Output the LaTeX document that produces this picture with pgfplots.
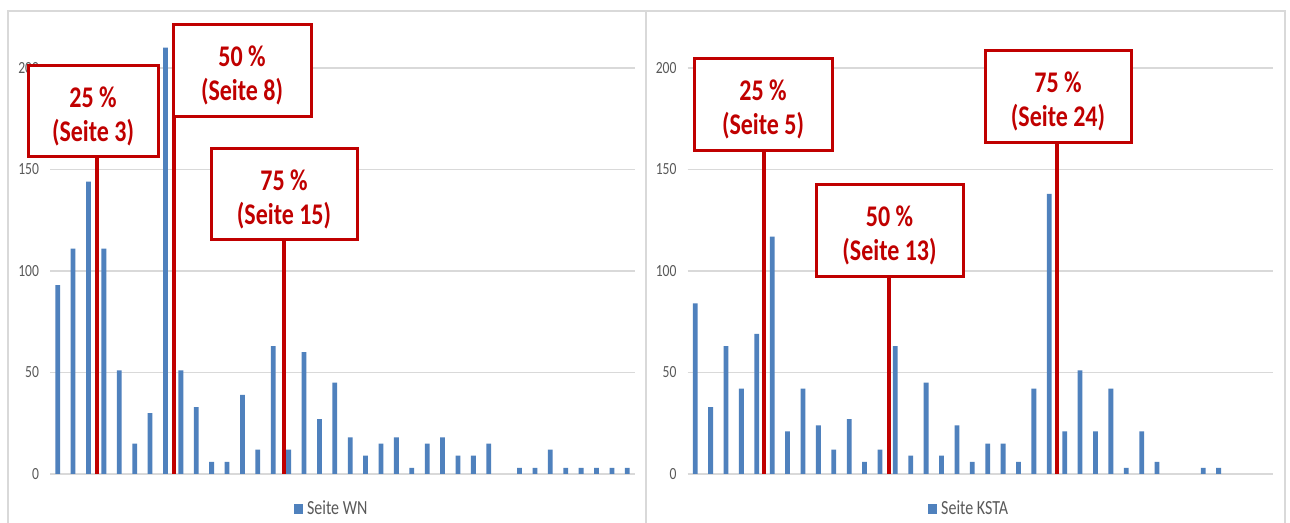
\documentclass[border=0pt]{standalone}
\usepackage{fontspec}
\setmainfont{Carlito}
\newfontfamily\condfont[FakeStretch=0.8]{Carlito}
\usepackage{pgfplots}
\pgfplotsset{compat=1.18}

\definecolor{barblue}{HTML}{4F81BD}
\definecolor{boxred}{HTML}{C00000}
\definecolor{gridgrey}{HTML}{D9D9D9}
\definecolor{labelgrey}{HTML}{595959}

% data: pages (0 = page 1) and counts
\pgfplotsset{
  panel/.style={
    scale only axis, width=292.5pt, height=218.2pt,
    anchor=south west,
    xmin=-0.5, xmax=37.5, ymin=0, ymax=215,
    ybar, bar width=2.4pt,
    xtick=\empty, ytick={0,50,100,150,200},
    ymajorgrids, grid style={gridgrey, line width=0.6pt},
    axis line style={draw=none}, major tick length=0pt,
    /pgf/number format/assume math mode=true,
    yticklabel style={font=\condfont\fontsize{8.5}{9}\selectfont, text=labelgrey, xshift=-2pt},
    legend style={draw=none, at={(0.5,0)}, anchor=center, yshift=-17.5pt, xshift=-5pt,
      font=\condfont\fontsize{10}{11}\selectfont, text=labelgrey, inner sep=1pt},
    legend image code/.code={\fill[barblue] (0pt,-2.5pt) rectangle (4.7pt,2.5pt);},
    clip=false,
  },
}
\tikzset{
  redline/.style={boxred, line width=2pt},
  box/.style={draw=boxred, line width=1.5pt, fill=white, inner sep=0pt,
    align=center, text=boxred, font=\condfont\fontsize{15}{17}\selectfont\bfseries},
}
\newcommand{\up}{\rule{0pt}{15pt}}

\begin{document}
\begin{tikzpicture}
\path[use as bounding box, fill=white] (0,0) rectangle (645pt,261.5pt);
% panel frames
\draw[gridgrey, line width=0.6pt] (4pt,-1pt) -- (4pt,256pt) -- (642.5pt,256pt) -- (642.5pt,-1pt);
\draw[gridgrey, line width=0.6pt] (323pt,-1pt) -- (323pt,256pt);

\begin{axis}[panel, at={(25pt,24.5pt)}]
\addplot[fill=barblue, draw=none] coordinates {
(0,93) (1,111) (2,144) (3,111) (4,51) (5,15) (6,30) (7,210) (8,51) (9,33)
(10,6) (11,6) (12,39) (13,12) (14,63) (15,12) (16,60) (17,27) (18,45) (19,18)
(20,9) (21,15) (22,18) (23,3) (24,15) (25,18) (26,9) (27,9) (28,15)
(30,3) (31,3) (32,12) (33,3) (34,3) (35,3) (36,3) (37,3)
};
\addlegendentry{Seite WN}
\draw[redline] (axis cs:2.56,0) -- (axis cs:2.56,156.2);
\draw[redline] (axis cs:7.57,0) -- (axis cs:7.57,175.9);
\draw[redline] (axis cs:14.69,0) -- (axis cs:14.69,115.3);
\end{axis}

\begin{axis}[panel, at={(343.75pt,24.5pt)}]
\addplot[fill=barblue, draw=none] coordinates {
(0,84) (1,33) (2,63) (3,42) (4,69) (5,117) (6,21) (7,42) (8,24) (9,12)
(10,27) (11,6) (12,12) (13,63) (14,9) (15,45) (16,9) (17,24) (18,6) (19,15)
(20,15) (21,6) (22,42) (23,138) (24,21) (25,51) (26,21) (27,42) (28,3) (29,21)
(30,6) (33,3) (34,3)
};
\addlegendentry{Seite KSTA}
\draw[redline] (axis cs:4.47,0) -- (axis cs:4.47,159.1);
\draw[redline] (axis cs:12.57,0) -- (axis cs:12.57,97.0);
\draw[redline] (axis cs:23.48,0) -- (axis cs:23.48,163.1);
\end{axis}

% annotation boxes
\node[box, minimum width=65pt, minimum height=45.5pt] at (46.5pt,205.75pt) {\up25 \%\\(Seite 3)};
\node[box, minimum width=69pt, minimum height=46pt] at (121pt,226pt) {\up50 \%\\(Seite 8)};
\node[box, minimum width=73pt, minimum height=45.5pt] at (142pt,164.25pt) {\up75 \%\\(Seite 15)};
\node[box, minimum width=69pt, minimum height=46pt] at (381.5pt,209pt) {\up25 \%\\(Seite 5)};
\node[box, minimum width=73.5pt, minimum height=46pt] at (444.75pt,146pt) {\up50 \%\\(Seite 13)};
\node[box, minimum width=73pt, minimum height=46pt] at (529pt,213pt) {\up75 \%\\(Seite 24)};
\end{tikzpicture}
\end{document}
